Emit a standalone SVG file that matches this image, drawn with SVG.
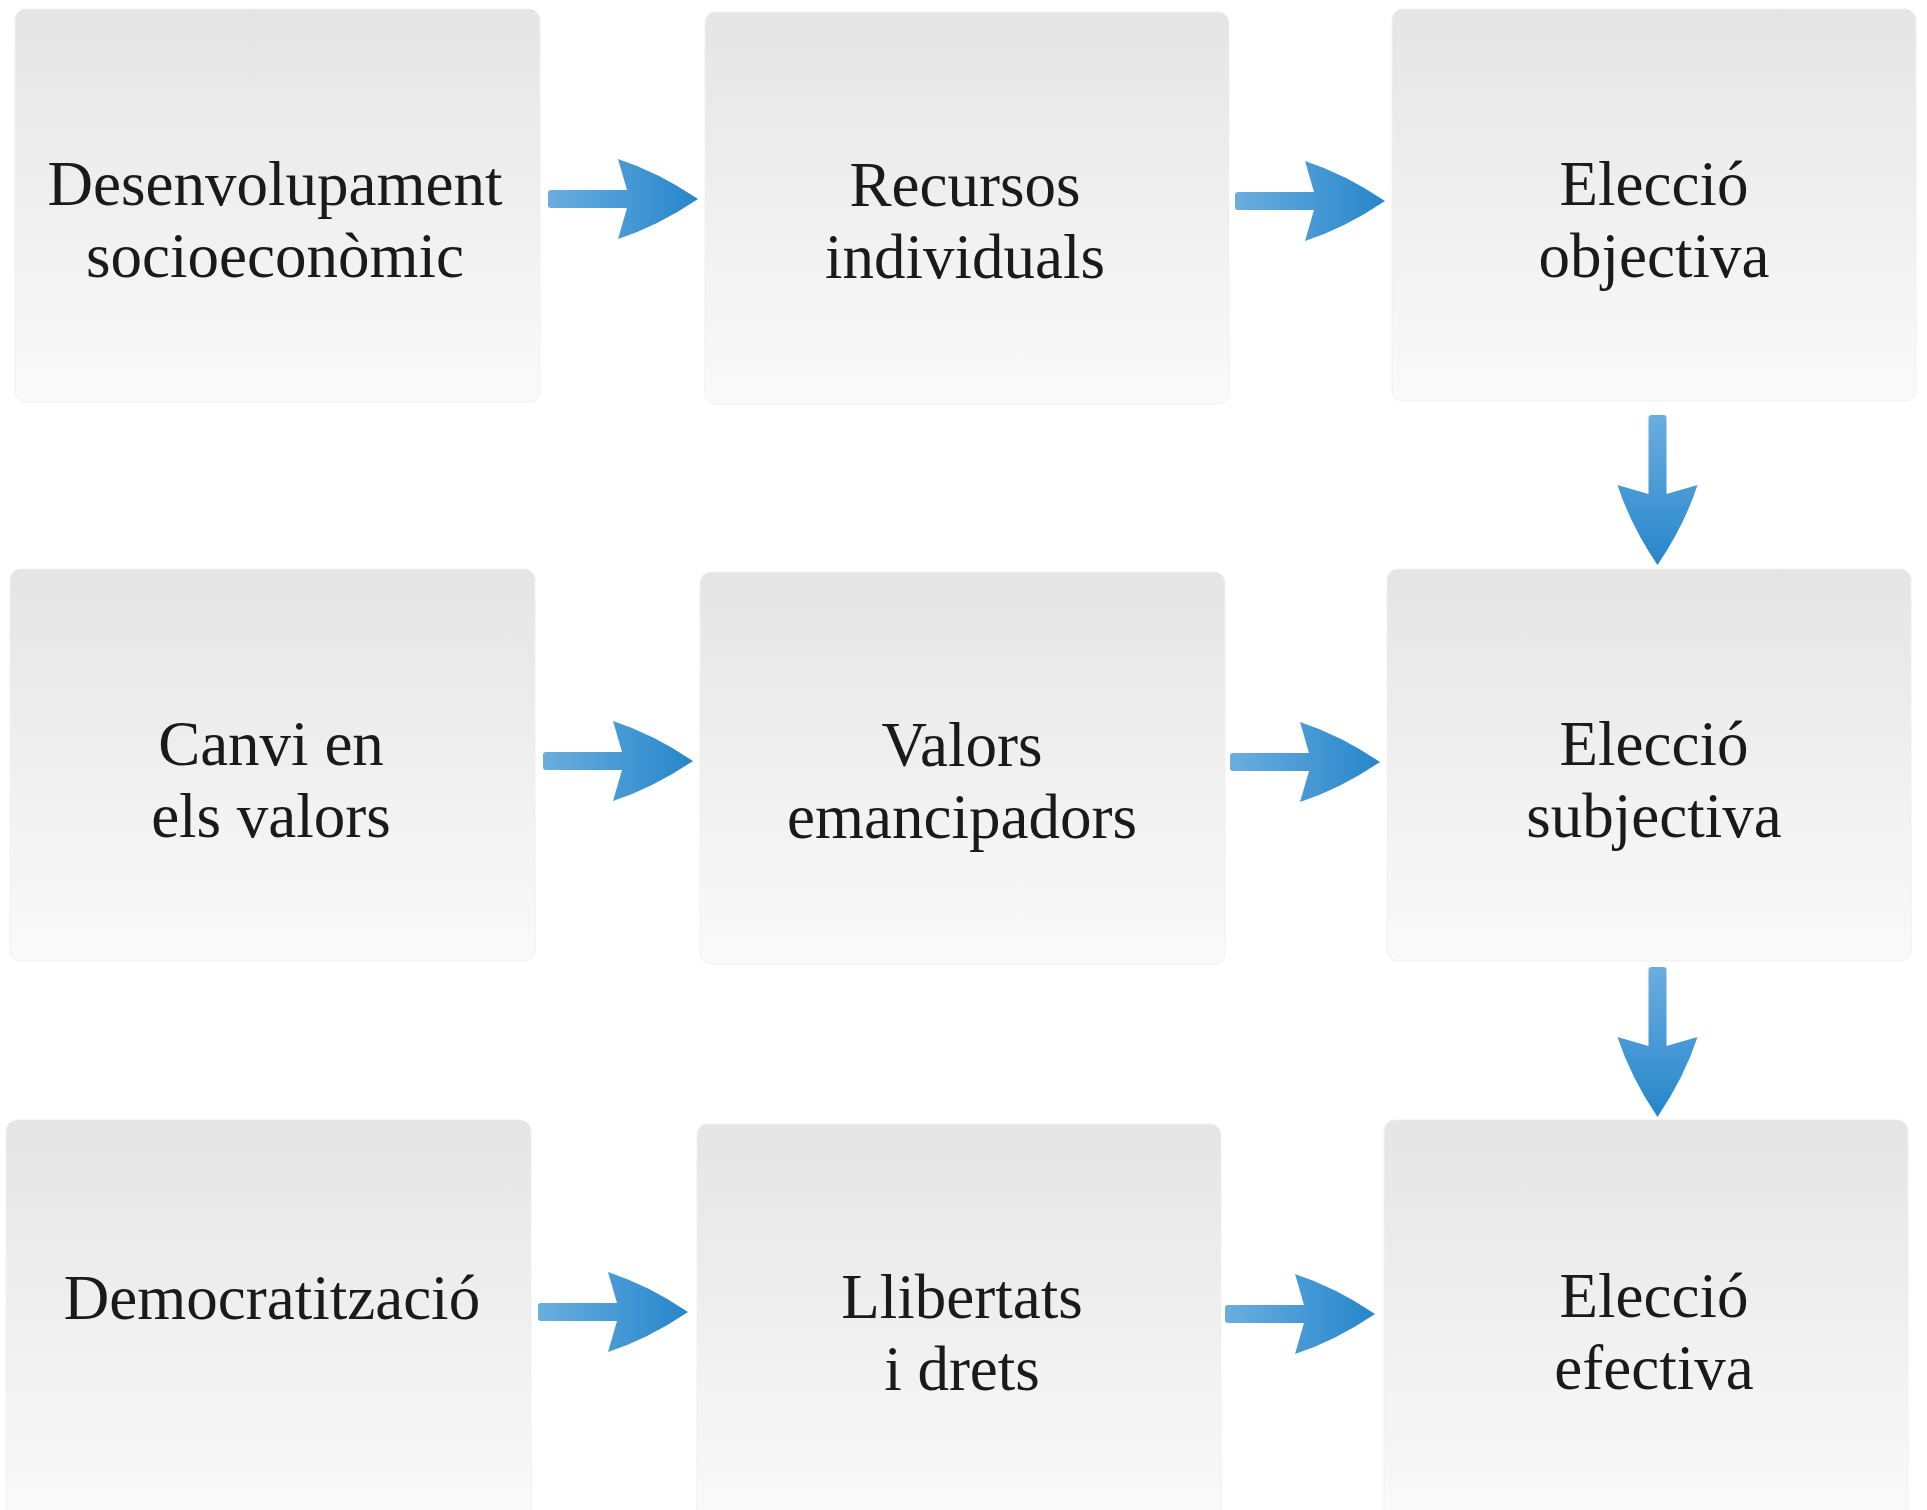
<svg xmlns="http://www.w3.org/2000/svg" xmlns:xlink="http://www.w3.org/1999/xlink" width="1927" height="1510" viewBox="0 0 1927 1510">
<style>
.box{fill:url(#boxg);stroke:#f0f0f0;stroke-width:1}
.lbl{font-family:"Liberation Serif","Times New Roman",serif;font-size:63px;fill:#1a1a1a;text-anchor:middle}
.arr{fill:url(#arrg)}
</style>
<defs>
<linearGradient id="boxg" x1="0" y1="0" x2="0" y2="1">
<stop offset="0" stop-color="#e5e5e5"/>
<stop offset="1" stop-color="#fafafa"/>
</linearGradient>
<linearGradient id="arrg" x1="0" y1="0" x2="1" y2="0">
<stop offset="0" stop-color="#6aaedf"/>
<stop offset="1" stop-color="#2686cb"/>
</linearGradient>
<path id="arrow" d="M3,-9 L79,-9 L70,-40 Q110,-27 150,0 Q110,27 70,40 L79,9 L3,9 Q0,9 0,6 L0,-6 Q0,-9 3,-9 Z"/>
</defs>
<rect width="1927" height="1510" fill="#ffffff"/>
<g id="n1"><rect class="box" x="15" y="9" width="525" height="393" rx="11"/><text class="lbl" x="275" y="205">Desenvolupament</text><text class="lbl" x="275" y="277">socioeconòmic</text></g>
<g id="n2"><rect class="box" x="705" y="12" width="524" height="392" rx="11"/><text class="lbl" x="965" y="206">Recursos</text><text class="lbl" x="965" y="278">individuals</text></g>
<g id="n3"><rect class="box" x="1392" y="9" width="524" height="392" rx="11"/><text class="lbl" x="1654" y="205">Elecció</text><text class="lbl" x="1654" y="277">objectiva</text></g>
<g id="n4"><rect class="box" x="10" y="569" width="525" height="392" rx="11"/><text class="lbl" x="271" y="765">Canvi en</text><text class="lbl" x="271" y="837">els valors</text></g>
<g id="n5"><rect class="box" x="700" y="572" width="525" height="392" rx="11"/><text class="lbl" x="962" y="766">Valors</text><text class="lbl" x="962" y="838">emancipadors</text></g>
<g id="n6"><rect class="box" x="1387" y="569" width="524" height="392" rx="11"/><text class="lbl" x="1654" y="765">Elecció</text><text class="lbl" x="1654" y="837">subjectiva</text></g>
<g id="n7"><rect class="box" x="6" y="1120" width="525" height="400" rx="11"/><text class="lbl" x="272" y="1319">Democratització</text></g>
<g id="n8"><rect class="box" x="697" y="1124" width="524" height="400" rx="11"/><text class="lbl" x="962" y="1318">Llibertats</text><text class="lbl" x="962" y="1390">i drets</text></g>
<g id="n9"><rect class="box" x="1384" y="1120" width="524" height="400" rx="11"/><text class="lbl" x="1654" y="1317">Elecció</text><text class="lbl" x="1654" y="1389">efectiva</text></g>
<g id="connectors">
<use xlink:href="#arrow" class="arr" transform="translate(548,199)"/>
<use xlink:href="#arrow" class="arr" transform="translate(1235,201)"/>
<use xlink:href="#arrow" class="arr" transform="translate(543,761)"/>
<use xlink:href="#arrow" class="arr" transform="translate(1230,762)"/>
<use xlink:href="#arrow" class="arr" transform="translate(538,1312)"/>
<use xlink:href="#arrow" class="arr" transform="translate(1225,1314)"/>
<use xlink:href="#arrow" class="arr" transform="translate(1657.5,415) rotate(90)"/>
<use xlink:href="#arrow" class="arr" transform="translate(1657.5,967) rotate(90)"/>
</g>
</svg>
